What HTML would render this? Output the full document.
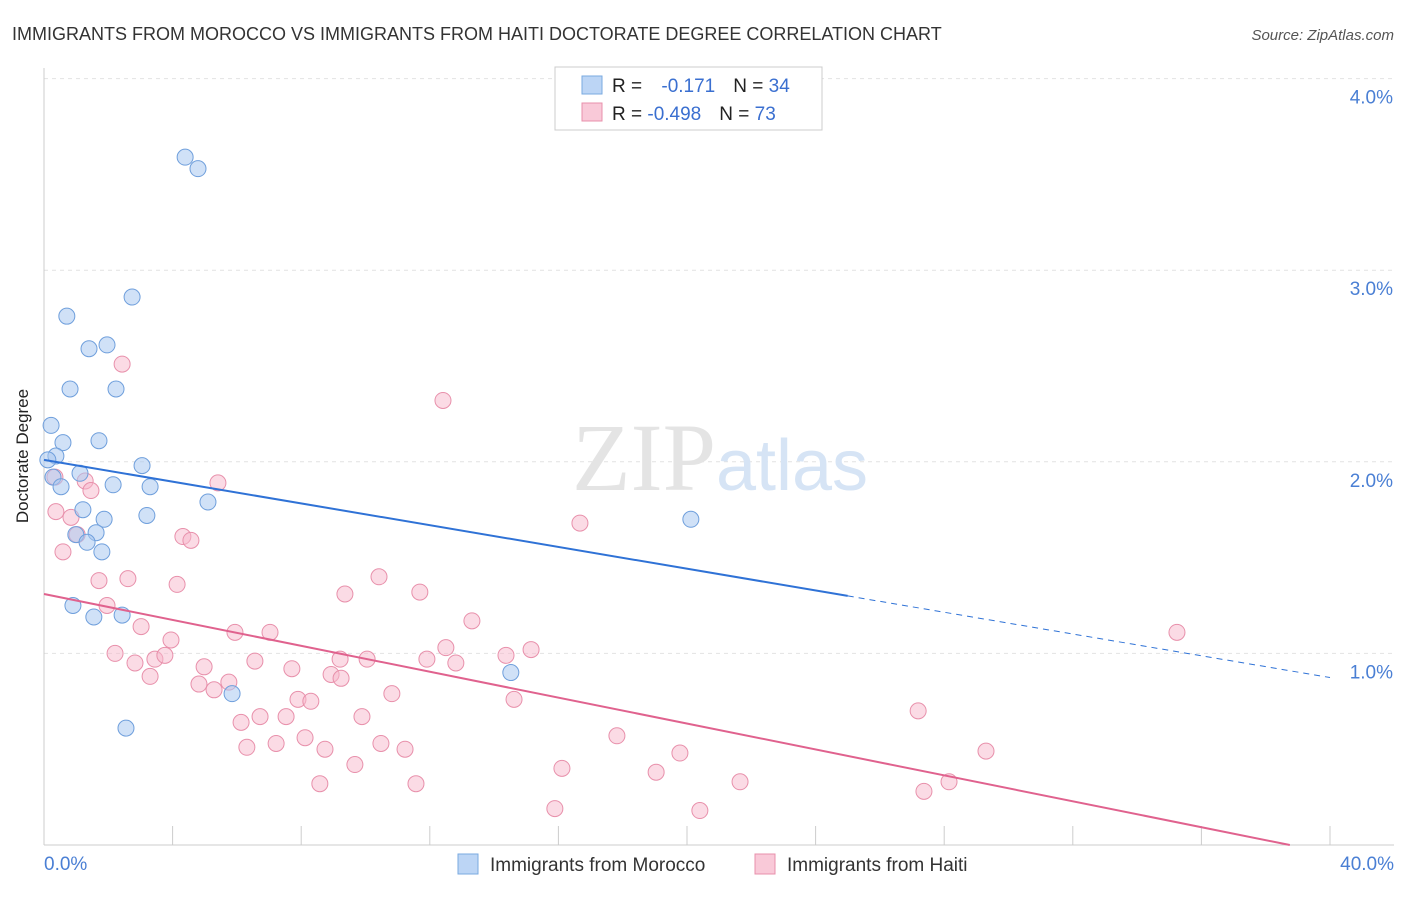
<!DOCTYPE html>
<html><head><meta charset="utf-8">
<style>
body{margin:0;background:#fff;font-family:"Liberation Sans",sans-serif;}
</style></head>
<body>
<svg id="chart" width="1406" height="892" xmlns="http://www.w3.org/2000/svg">
<text x="12" y="40" font-size="18" fill="#333">IMMIGRANTS FROM MOROCCO VS IMMIGRANTS FROM HAITI DOCTORATE DEGREE CORRELATION CHART</text>
<text x="1394" y="40" font-size="15" fill="#555" text-anchor="end" font-style="italic">Source: ZipAtlas.com</text>
<text x="28" y="456" font-size="17" fill="#222" text-anchor="middle" transform="rotate(-90 28 456)">Doctorate Degree</text>
<g id="grid"></g>
<g id="axes"></g>
<text x="720" y="490" font-size="96" fill="#e4e4e4" text-anchor="middle" font-family="Liberation Serif">ZIP<tspan fill="#d6e4f5" font-family="Liberation Sans" font-size="72">atlas</tspan></text>
<g id="marks"></g>
<g>
<rect x="555" y="67" width="267" height="63" fill="#fff" stroke="#ccc"/>
<rect x="582" y="76" width="20" height="18" fill="#bcd5f5" stroke="#7aaae0"/>
<rect x="582" y="103" width="20" height="18" fill="#f9c9d8" stroke="#e890ab"/>
<text x="612" y="92" font-size="19" fill="#222">R = <tspan fill="#3a6fd0" dx="14">-0.171</tspan><tspan dx="18" fill="#222">N = </tspan><tspan fill="#3a6fd0">34</tspan></text>
<text x="612" y="120" font-size="19" fill="#222">R = <tspan fill="#3a6fd0">-0.498</tspan><tspan dx="18" fill="#222">N = </tspan><tspan fill="#3a6fd0">73</tspan></text>
</g>
<g>
<rect x="458" y="854" width="20" height="20" fill="#bcd5f5" stroke="#7aaae0"/>
<text x="490" y="871" font-size="19" fill="#333">Immigrants from Morocco</text>
<rect x="755" y="854" width="20" height="20" fill="#f9c9d8" stroke="#e890ab"/>
<text x="787" y="871" font-size="19" fill="#333">Immigrants from Haiti</text>
</g>
</svg>
<script>
const xTicks=[0,4,8,12,16,20,24,28,32,36,40];
const yTicks=[1,2,3,4];
const yTickLabels=["1.0%","2.0%","3.0%","4.0%"];
const moroccoX=[4.39,4.79,2.74,0.71,1.40,1.96,0.81,2.24,0.22,0.59,1.71,0.37,0.12,3.05,1.12,0.28,0.53,2.15,3.30,5.10,1.21,3.20,1.87,1.62,0.99,1.34,1.80,0.90,1.55,2.43,5.85,2.55,14.52,20.12];
const moroccoY=[3.59,3.53,2.86,2.76,2.59,2.61,2.38,2.38,2.19,2.10,2.11,2.03,2.01,1.98,1.94,1.92,1.87,1.88,1.87,1.79,1.75,1.72,1.70,1.63,1.62,1.58,1.53,1.25,1.19,1.20,0.79,0.61,0.90,1.70];
const haitiX=[2.43,12.41,5.41,1.28,1.46,0.34,0.37,0.84,16.67,1.03,4.32,4.57,0.59,2.61,1.71,4.14,10.42,9.36,11.69,1.96,13.31,3.02,5.94,7.03,3.95,2.21,3.45,3.76,2.83,3.30,4.98,6.56,7.71,9.21,10.05,11.91,12.50,12.81,14.37,15.15,35.24,4.82,5.29,5.75,8.93,9.24,7.90,8.30,10.82,14.62,6.72,6.13,7.53,9.89,27.19,8.12,6.31,7.22,8.74,10.48,11.23,17.82,19.78,29.30,9.67,16.11,19.04,8.58,11.57,21.65,28.15,27.37,15.89,20.40];
const haitiY=[2.51,2.32,1.89,1.90,1.85,1.92,1.74,1.71,1.68,1.62,1.61,1.59,1.53,1.39,1.38,1.36,1.40,1.31,1.32,1.25,1.17,1.14,1.11,1.11,1.07,1.00,0.97,0.99,0.95,0.88,0.93,0.96,0.92,0.97,0.97,0.97,1.03,0.95,0.99,1.02,1.11,0.84,0.81,0.85,0.89,0.87,0.76,0.75,0.79,0.76,0.67,0.64,0.67,0.67,0.70,0.56,0.51,0.53,0.50,0.53,0.50,0.57,0.48,0.49,0.42,0.40,0.38,0.32,0.32,0.33,0.33,0.28,0.19,0.18];
const moroccoLine=[2.01,1.30];
const haitiLine=[1.31,0.00];
const NS="http://www.w3.org/2000/svg";
const X=v=>44+v*32.15, Y=v=>845-v*191.6;
function mk(t,a,p){const e=document.createElementNS(NS,t);for(const k in a)e.setAttribute(k,a[k]);p.appendChild(e);return e;}
const grid=document.getElementById('grid'),axes=document.getElementById('axes'),marks=document.getElementById('marks');
yTicks.forEach((v,i)=>{
 const l=mk('line',{x1:44,x2:1394,y1:Y(v),y2:Y(v),stroke:'#e2e2e2','stroke-dasharray':'4,4'},grid);
 
 
 const t=mk('text',{x:1393,y:Y(v)+25,'font-size':19,fill:'#4a7fd4','text-anchor':'end'},axes);
 t.textContent=yTickLabels[i];
 
 
});
mk('line',{x1:44,x2:44,y1:68,y2:845,stroke:'#ccc'},axes);
mk('line',{x1:44,x2:1394,y1:845,y2:845,stroke:'#ccc'},axes);
xTicks.forEach(v=>{const l=mk('line',{x1:X(v),x2:X(v),y1:826,y2:845,stroke:'#ccc'},axes);
 
 });
let t0=mk('text',{x:44,y:870,'font-size':19,fill:'#4a7fd4'},axes);t0.textContent='0.0%';


let t1=mk('text',{x:1394,y:870,'font-size':19,fill:'#4a7fd4','text-anchor':'end'},axes);t1.textContent='40.0%';


haitiX.forEach((x,i)=>{const c=mk('circle',{cx:X(x),cy:Y(haitiY[i]),r:8,fill:'rgba(247,184,203,0.5)',stroke:'#e890ab','stroke-width':1},marks);
 
 });
moroccoX.forEach((x,i)=>{const c=mk('circle',{cx:X(x),cy:Y(moroccoY[i]),r:8,fill:'rgba(169,200,240,0.55)',stroke:'#6f9fdc','stroke-width':1},marks);
 
 });
const bx=25;
const bm=(moroccoLine[1]-moroccoLine[0])/bx;
let l1=mk('line',{x1:X(0),y1:Y(moroccoLine[0]),x2:X(bx),y2:Y(moroccoLine[1]),stroke:'#2f72d6','stroke-width':2},marks);


let l2=mk('line',{x1:X(bx),y1:Y(moroccoLine[1]),x2:X(40),y2:Y(moroccoLine[1]+bm*15),stroke:'#2f72d6','stroke-width':1,'stroke-dasharray':'6,5'},marks);


let l3=mk('line',{x1:X(0),y1:Y(haitiLine[0]),x2:X(38.75),y2:Y(haitiLine[1]),stroke:'#e0628e','stroke-width':2},marks);


</script>
</body></html>
